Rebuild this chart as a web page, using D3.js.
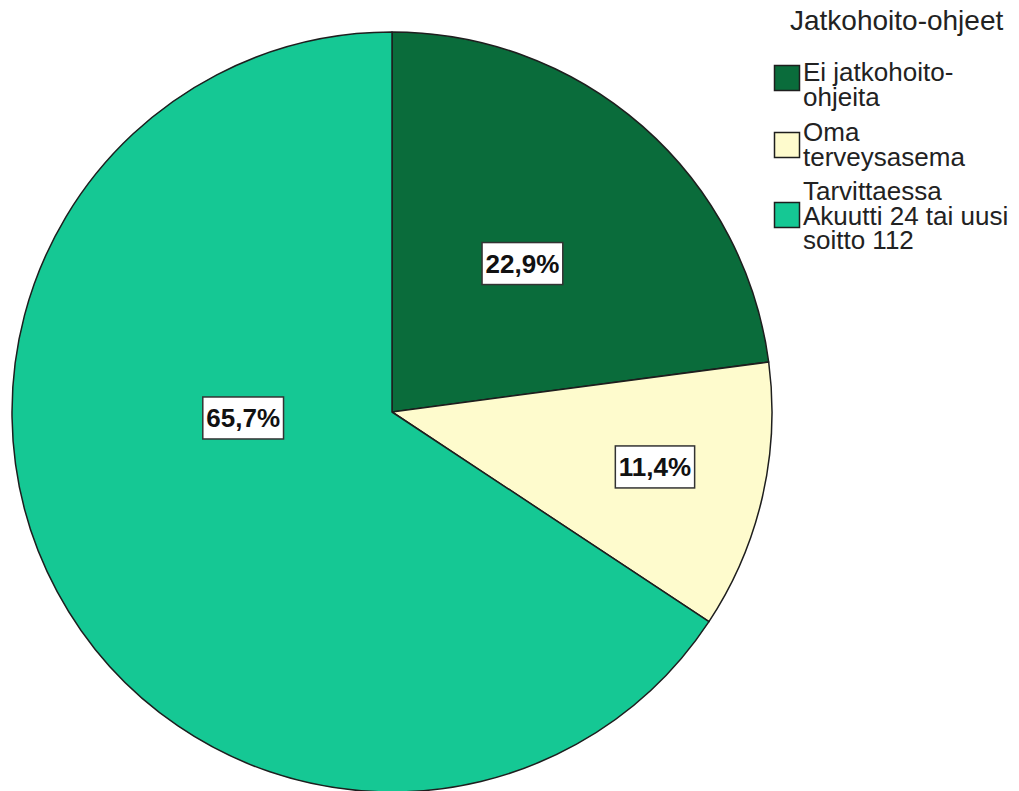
<!DOCTYPE html>
<html>
<head>
<meta charset="utf-8">
<script src="https://cdn.jsdelivr.net/npm/d3@7"></script>
<style>
  html, body { margin: 0; padding: 0; background: #ffffff; }
  svg { display: block; }
</style>
</head>
<body>
<svg id="chart" width="1019" height="791"></svg>
<script>
// Follow-up instructions given to the patients (share of cases)
const categories = ["Ei jatkohoito-ohjeita", "Oma terveysasema", "Tarvittaessa Akuutti 24 tai uusi soitto 112"];
const values = [22.9, 11.4, 65.7];
const valueLabels = ["22,9%", "11,4%", "65,7%"];
const legendTitle = "Jatkohoito-ohjeet";
const legendLines = [
  ["Ei jatkohoito-", "ohjeita"],
  ["Oma", "terveysasema"],
  ["Tarvittaessa", "Akuutti 24 tai uusi", "soitto 112"]
];
const colors = ["#0a6c3b", "#fefbcd", "#15c894"];

// Label anchors: fraction of the radius and clockwise angle from 12 o'clock (degrees)
const labelAnchors = [
  { r: 0.52, angle: 41.3 },
  { r: 0.707, angle: 101.8 },
  { r: 0.392, angle: 267.7 }
];

const svg = d3.select("#chart");
const cx = 392, cy = 412, radius = 380;

const pie = d3.pie().sort(null).value(d => d)(values);
const arc = d3.arc().innerRadius(0).outerRadius(radius);

const g = svg.append("g").attr("transform", `translate(${cx},${cy})`);

g.selectAll("path.slice")
  .data(pie)
  .join("path")
  .attr("class", "slice")
  .attr("d", arc)
  .attr("fill", (d, i) => colors[i])
  .attr("stroke", "#1e1e1e")
  .attr("stroke-width", 1.5)
  .attr("stroke-linejoin", "round");

// Value labels in white boxes
const labelFont = 26;
const labels = g.selectAll("g.vlabel")
  .data(pie)
  .join("g")
  .attr("class", "vlabel")
  .attr("transform", (d, i) => {
    const a = labelAnchors[i];
    const p = d3.arc().innerRadius(a.r * radius).outerRadius(a.r * radius)
      .startAngle(a.angle * Math.PI / 180).endAngle(a.angle * Math.PI / 180).centroid();
    return `translate(${p[0]},${p[1]})`;
  });

labels.each(function (d, i) {
  const sel = d3.select(this);
  const rect = sel.append("rect");
  const t = sel.append("text")
    .attr("text-anchor", "middle")
    .attr("dominant-baseline", "central")
    .attr("y", 0)
    .attr("font-family", "'Liberation Sans', Arial, sans-serif")
    .attr("font-weight", "bold")
    .attr("font-size", labelFont)
    .attr("fill", "#111")
    .text(valueLabels[i]);
  const w = t.node().getComputedTextLength() + 7;
  const h = 42;
  rect.attr("x", -w / 2).attr("y", -h / 2)
    .attr("width", w).attr("height", h)
    .attr("fill", "#ffffff")
    .attr("stroke", "#333333")
    .attr("stroke-width", 1.5);
});

// Legend
const legend = svg.append("g");
legend.append("text")
  .attr("x", 790).attr("y", 30)
  .attr("font-family", "'Liberation Sans', Arial, sans-serif")
  .attr("font-size", 28)
  .attr("fill", "#222")
  .text(legendTitle);

const legendFont = 26;
const lineH = 24.5;
const entryStarts = [81, 141, 200];
const swatchCenters = [78, 145, 215];
const swatchSize = 25;

legendLines.forEach((lines, i) => {
  const y0 = entryStarts[i];
  legend.append("rect")
    .attr("x", 774.5).attr("y", swatchCenters[i] - swatchSize / 2)
    .attr("width", swatchSize).attr("height", swatchSize)
    .attr("fill", colors[i])
    .attr("stroke", "#1e1e1e")
    .attr("stroke-width", 1.5);
  const t = legend.append("text")
    .attr("font-family", "'Liberation Sans', Arial, sans-serif")
    .attr("font-size", legendFont)
    .attr("fill", "#222");
  lines.forEach((ln, k) => {
    t.append("tspan").attr("x", 803).attr("y", y0 + k * lineH).text(ln);
  });
});
</script>
</body>
</html>
